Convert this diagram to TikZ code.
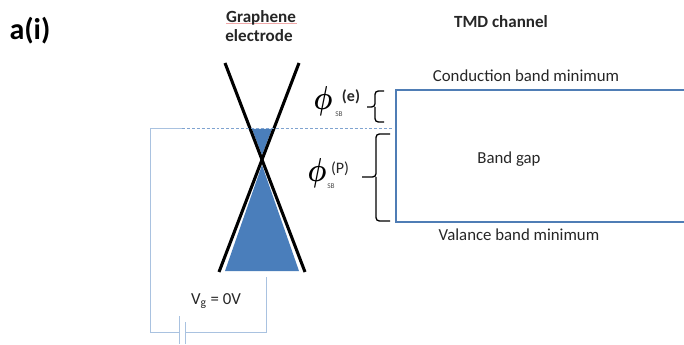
\documentclass[tikz,border=0pt]{standalone}
\usepackage{graphicx}
\usepackage{fontspec}
\setmainfont{Carlito}
\begin{document}
\begin{tikzpicture}[x=0.75pt,y=-0.75pt,
  wire/.style={draw=wireblue,line width=0.75pt},
  bandline/.style={draw=bandblue,line width=0.8pt},
  cone/.style={draw=black,line width=2.3pt},
  fill cone/.style={fill=coneblue,draw=none},
  brc/.style={draw=black,line width=1pt,rounded corners=2.5pt},
  lab/.style={inner sep=0pt,text=black!85,font=\fontsize{12.6pt}{14pt}\selectfont},
  blab/.style={lab,font=\fontsize{12.8pt}{14pt}\selectfont\bfseries},
  sb/.style={inner sep=0pt,text=black!70,font=\fontsize{5.5pt}{6pt}\selectfont},
  phisym/.style={inner sep=0pt,text=black,font=\fontsize{26pt}{28pt}\selectfont\boldmath}]
\definecolor{wireblue}{HTML}{A9C2E0}
\definecolor{bandblue}{HTML}{4F7DB5}
\definecolor{coneblue}{HTML}{4A7EBB}
\definecolor{dashblue}{HTML}{7FA3D0}
\definecolor{squiggle}{HTML}{F0A8A8}
\useasboundingbox (0,0) rectangle (684,345);
% text
\node[inner sep=0pt,font=\fontsize{22.5pt}{24pt}\selectfont\bfseries] (title) at (30,31) {a(i)};
\draw[squiggle,line width=0.6pt] (226,23.5) -- (297,23.5);
\node[blab] (gr) at (261,18) {Graphene};
\node[blab] (el) at (259,36) {electrode};
\node[blab] (tmd) at (501,22) {TMD channel};
\node[lab] (cbm) at (526,76) {Conduction band minimum};
\node[lab] (bg) at (509,159) {Band gap};
\node[lab] (vbm) at (519,235) {Valance band minimum};
\node[lab] (vg) at (216,301) {V\textsubscript{g} = 0V};
% fills
\fill[fill cone] (252,129) -- (272,129) -- (262,155) -- cycle;
\fill[fill cone] (225,271) -- (299,271) -- (262,165) -- cycle;
% cone lines
\coordinate (lt) at (225,63); \coordinate (rb) at (305,272);
\coordinate (rt) at (299,63); \coordinate (lb) at (219,272);
\draw[cone] (lt) -- (rb);
\draw[cone] (rt) -- (lb);
% circuit
\coordinate (d1) at (150,129); \coordinate (d2) at (182,129); \coordinate (d3) at (393,129);
\coordinate (c1) at (150,332); \coordinate (p1) at (179,332); \coordinate (p2) at (185,332);
\coordinate (c2) at (266,332); \coordinate (c3) at (266,277);
\draw[wire] (d2) -- (d1) -- (c1) -- (p1);
\draw[draw=dashblue,line width=0.75pt,dash pattern=on 2.2pt off 1.5pt] (d2) -- (d3);
\draw[wire] (p2) -- (c2) -- (c3);
\draw[wire] (179,316) -- (179,344);
\draw[wire] (185,322) -- (185,344);
% TMD band box
\coordinate (bt) at (684,90); \coordinate (btl) at (396,90);
\coordinate (bbl) at (396,222); \coordinate (bb) at (684,222);
\draw[bandline] (bt) -- (btl) -- (bbl) -- (bb);
% braces
\draw[brc] (384,91) -- (375,91) -- (375,107) -- (367,107);
\draw[brc] (375,107) -- (375,122) -- (384,122);
\draw[brc] (390,134) -- (376,134) -- (376,177) -- (362,177);
\draw[brc] (376,177) -- (376,221) -- (390,221);
% barrier labels
\node[phisym] (phie) at (323,101) {\scalebox{0.8}[1]{$\phi$}};
\node[blab,font=\fontsize{12pt}{13pt}\selectfont\bfseries] (e) at (351,97) {(e)};
\node[sb] (sbe) at (339,114) {SB};
\node[phisym] (phip) at (317,173) {\scalebox{0.8}[1]{$\phi$}};
\node[lab,font=\fontsize{12pt}{13pt}\selectfont] (P) at (340,169) {(P)};
\node[sb] (sbp) at (331,186) {SB};
\end{tikzpicture}
\end{document}
